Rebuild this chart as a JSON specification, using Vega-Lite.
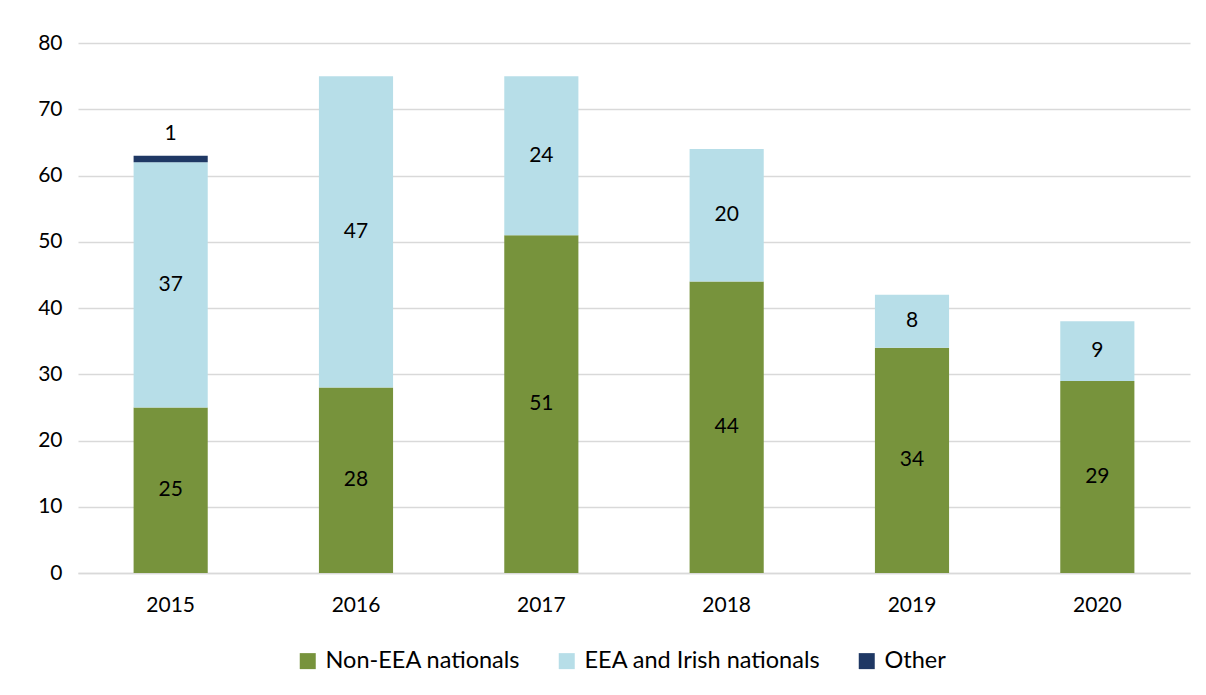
{
  "$schema": "https://vega.github.io/schema/vega-lite/v6.json",
  "width": 1112,
  "height": 530,
  "autosize": {"type": "none"},
  "padding": {"left": 78, "top": 43, "right": 16, "bottom": 122},
  "background": "white",
  "config": {
    "font": "Lato",
    "view": {"stroke": null},
    "axis": {"labelFont": "Lato", "labelFontSize": 21, "labelColor": "#000000", "ticks": false, "title": null}
  },
  "data": {
    "values": [
      {"year": "2015", "category": "Non-EEA nationals", "ord": 1, "value": 25},
      {"year": "2015", "category": "EEA and Irish nationals", "ord": 2, "value": 37},
      {"year": "2015", "category": "Other", "ord": 3, "value": 1},
      {"year": "2016", "category": "Non-EEA nationals", "ord": 1, "value": 28},
      {"year": "2016", "category": "EEA and Irish nationals", "ord": 2, "value": 47},
      {"year": "2017", "category": "Non-EEA nationals", "ord": 1, "value": 51},
      {"year": "2017", "category": "EEA and Irish nationals", "ord": 2, "value": 24},
      {"year": "2018", "category": "Non-EEA nationals", "ord": 1, "value": 44},
      {"year": "2018", "category": "EEA and Irish nationals", "ord": 2, "value": 20},
      {"year": "2019", "category": "Non-EEA nationals", "ord": 1, "value": 34},
      {"year": "2019", "category": "EEA and Irish nationals", "ord": 2, "value": 8},
      {"year": "2020", "category": "Non-EEA nationals", "ord": 1, "value": 29},
      {"year": "2020", "category": "EEA and Irish nationals", "ord": 2, "value": 9}
    ]
  },
  "encoding": {
    "x": {
      "field": "year", "type": "nominal",
      "scale": {"paddingInner": 0.6, "paddingOuter": 0.3},
      "axis": {"labelAngle": 0, "domainColor": "#d9d9d9", "domainWidth": 1.5, "labelPadding": 21}
    }
  },
  "layer": [
    {
      "mark": {"type": "bar"},
      "encoding": {
        "y": {
          "field": "value", "type": "quantitative", "stack": "zero",
          "scale": {"domain": [0, 80]},
          "axis": {"values": [0,10,20,30,40,50,60,70,80], "domain": false, "gridColor": "#d9d9d9", "gridWidth": 1.5, "labelPadding": 16}
        },
        "color": {
          "field": "category", "type": "nominal",
          "scale": {"domain": ["Non-EEA nationals", "EEA and Irish nationals", "Other"], "range": ["#77933C", "#B7DEE8", "#1F3864"]},
          "legend": {
            "title": null, "orient": "none", "direction": "horizontal",
            "legendX": 218, "legendY": 606,
            "symbolType": "square", "symbolSize": 256, "symbolStrokeWidth": 0,
            "labelFontSize": 23.5, "labelFont": "Lato", "labelColor": "#000000", "labelLimit": 500,
            "columnPadding": 34, "labelOffset": 6
          }
        },
        "order": {"field": "ord", "type": "quantitative"}
      }
    },
    {
      "transform": [{"filter": "datum.category !== 'Other'"}],
      "mark": {"type": "text", "fontSize": 21, "color": "#000000", "baseline": "middle"},
      "encoding": {
        "y": {"field": "value", "type": "quantitative", "stack": "zero", "bandPosition": 0.5},
        "text": {"field": "value", "type": "quantitative"},
        "order": {"field": "ord", "type": "quantitative"}
      }
    },
    {
      "mark": {"type": "text", "fontSize": 21, "color": "#000000", "baseline": "middle", "dy": -22},
      "encoding": {
        "y": {"field": "value", "type": "quantitative", "stack": "zero", "bandPosition": 1},
        "text": {"condition": {"test": "datum.category === 'Other'", "field": "value", "type": "quantitative"}, "value": ""},
        "order": {"field": "ord", "type": "quantitative"}
      }
    }
  ]
}
